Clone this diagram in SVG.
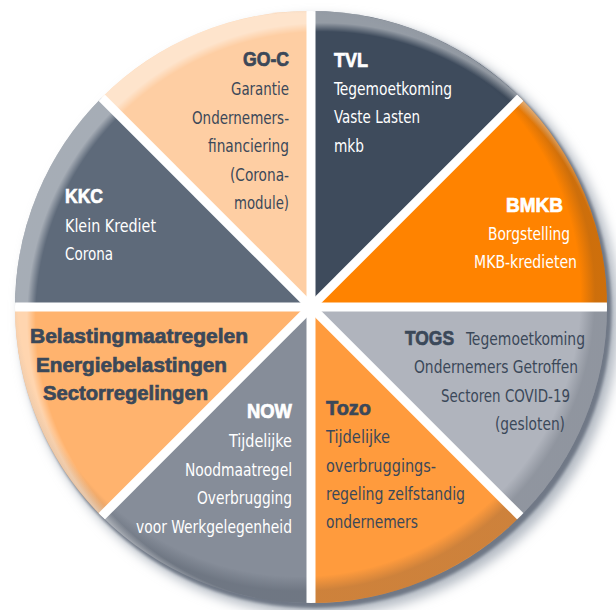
<svg xmlns="http://www.w3.org/2000/svg" width="616" height="610" viewBox="0 0 616 610">
<style>
.t{font-family:"Liberation Sans Narrow","DejaVu Sans Condensed","DejaVu Sans",sans-serif;font-size:18.5px}
.h{font-family:"Liberation Sans","DejaVu Sans",sans-serif;font-size:20px;font-weight:bold;stroke-width:0.7}
.hb{font-family:"Liberation Sans","DejaVu Sans",sans-serif;font-size:21px;font-weight:bold;stroke-width:0.7}
.w{fill:#ffffff}
.d{fill:#3b4859}
.h.w{stroke:#ffffff}
.h.d,.hb.d{stroke:#3b4859}
.e{text-anchor:end}
.gap{stroke:#ffffff;stroke-width:9;fill:none}
</style>
<defs>
<filter id="blur6" x="-10%" y="-10%" width="120%" height="120%"><feGaussianBlur stdDeviation="6"/></filter>
<filter id="blur1" x="-10%" y="-10%" width="120%" height="120%"><feGaussianBlur stdDeviation="1.5"/></filter>
<clipPath id="pie"><circle cx="311" cy="307" r="296"/></clipPath>
<radialGradient id="inShade" cx="0.48" cy="0.48" r="0.5">
<stop offset="0.95" stop-color="#1e2835" stop-opacity="0"/>
<stop offset="1" stop-color="#1e2835" stop-opacity="0.22"/>
</radialGradient>
<radialGradient id="inLight" cx="0.52" cy="0.52" r="0.5">
<stop offset="0.97" stop-color="#ffffff" stop-opacity="0"/>
<stop offset="1" stop-color="#ffffff" stop-opacity="0.45"/>
</radialGradient>
</defs>
<rect width="616" height="610" fill="#ffffff"/>
<g id="shadow">
<circle cx="320" cy="316" r="299" fill="#b3bac3" filter="url(#blur6)"/>
<circle cx="314.5" cy="311" r="297" fill="#6f7886" filter="url(#blur1)"/>
</g>
<g id="segments">
<g id="tvl"><path d="M311,307 L311,11 A296,296 0 0 1 520.3,97.7 Z" fill="#3e4b5c"/></g>
<g id="bmkb"><path d="M311,307 L520.3,97.7 A296,296 0 0 1 607,307 Z" fill="#ff8300"/></g>
<g id="togs"><path d="M311,307 L607,307 A296,296 0 0 1 520.3,516.3 Z" fill="#b0b4bd"/></g>
<g id="tozo"><path d="M311,307 L520.3,516.3 A296,296 0 0 1 311,603 Z" fill="#ff9b3d"/></g>
<g id="now"><path d="M311,307 L311,603 A296,296 0 0 1 101.7,516.3 Z" fill="#868d99"/></g>
<g id="belasting"><path d="M311,307 L101.7,516.3 A296,296 0 0 1 15,307 Z" fill="#ffb36e"/></g>
<g id="kkc"><path d="M311,307 L15,307 A296,296 0 0 1 101.7,97.7 Z" fill="#5e6a7a"/></g>
<g id="goc"><path d="M311,307 L101.7,97.7 A296,296 0 0 1 311,11 Z" fill="#fecea3"/></g>
</g>
<g id="bevel">
<circle cx="311" cy="307" r="296" fill="url(#inShade)"/>
<circle cx="311" cy="307" r="296" fill="url(#inLight)"/>
</g>
<g id="connectors" clip-path="url(#pie)">
<line class="gap" x1="311" y1="0" x2="311" y2="610"/>
<line class="gap" x1="0" y1="307" x2="616" y2="307"/>
<line class="gap" x1="0" y1="-4" x2="622" y2="618"/>
<line class="gap" x1="0" y1="618" x2="622" y2="-4"/>
</g>
<g id="label-goc">
<text class="h d e" x="289" y="66" textLength="46" lengthAdjust="spacingAndGlyphs">GO-C</text>
<text class="t d e" x="289" y="95" textLength="58" lengthAdjust="spacingAndGlyphs">Garantie</text>
<text class="t d e" x="289" y="124" textLength="97" lengthAdjust="spacingAndGlyphs">Ondernemers-</text>
<text class="t d e" x="289" y="152" textLength="81" lengthAdjust="spacingAndGlyphs">financiering</text>
<text class="t d e" x="289" y="181" textLength="59" lengthAdjust="spacingAndGlyphs">(Corona-</text>
<text class="t d e" x="289" y="209" textLength="55" lengthAdjust="spacingAndGlyphs">module)</text>
</g>
<g id="label-tvl">
<text class="h w" x="334" y="67" textLength="34" lengthAdjust="spacingAndGlyphs">TVL</text>
<text class="t w" x="334" y="95" textLength="118" lengthAdjust="spacingAndGlyphs">Tegemoetkoming</text>
<text class="t w" x="334" y="123" textLength="86" lengthAdjust="spacingAndGlyphs">Vaste Lasten</text>
<text class="t w" x="334" y="152" textLength="30" lengthAdjust="spacingAndGlyphs">mkb</text>
</g>
<g id="label-kkc">
<text class="h w" x="65" y="203" textLength="38" lengthAdjust="spacingAndGlyphs">KKC</text>
<text class="t w" x="65" y="232" textLength="91" lengthAdjust="spacingAndGlyphs">Klein Krediet</text>
<text class="t w" x="65" y="260" textLength="48" lengthAdjust="spacingAndGlyphs">Corona</text>
</g>
<g id="label-bmkb">
<text class="h w" x="506" y="212" textLength="57" lengthAdjust="spacingAndGlyphs">BMKB</text>
<text class="t w" x="488" y="240" textLength="82" lengthAdjust="spacingAndGlyphs">Borgstelling</text>
<text class="t w" x="474" y="268" textLength="103" lengthAdjust="spacingAndGlyphs">MKB-kredieten</text>
</g>
<g id="label-belasting">
<text class="hb d" x="30" y="343" textLength="218" lengthAdjust="spacingAndGlyphs">Belastingmaatregelen</text>
<text class="hb d" x="36" y="372" textLength="191" lengthAdjust="spacingAndGlyphs">Energiebelastingen</text>
<text class="hb d" x="43" y="400" textLength="165" lengthAdjust="spacingAndGlyphs">Sectorregelingen</text>
</g>
<g id="label-togs">
<text class="h d" x="405" y="345" textLength="49" lengthAdjust="spacingAndGlyphs">TOGS</text>
<text class="t d" x="466" y="345" textLength="119" lengthAdjust="spacingAndGlyphs">Tegemoetkoming</text>
<text class="t d" x="414" y="373" textLength="164" lengthAdjust="spacingAndGlyphs">Ondernemers Getroffen</text>
<text class="t d" x="441" y="402" textLength="129" lengthAdjust="spacingAndGlyphs">Sectoren COVID-19</text>
<text class="t d" x="495" y="430" textLength="70" lengthAdjust="spacingAndGlyphs">(gesloten)</text>
</g>
<g id="label-now">
<text class="h w e" x="292" y="418" textLength="45" lengthAdjust="spacingAndGlyphs">NOW</text>
<text class="t w e" x="292" y="447" textLength="63" lengthAdjust="spacingAndGlyphs">Tijdelijke</text>
<text class="t w e" x="292" y="476" textLength="107" lengthAdjust="spacingAndGlyphs">Noodmaatregel</text>
<text class="t w e" x="292" y="504" textLength="95" lengthAdjust="spacingAndGlyphs">Overbrugging</text>
<text class="t w e" x="292" y="533" textLength="156" lengthAdjust="spacingAndGlyphs">voor Werkgelegenheid</text>
</g>
<g id="label-tozo">
<text class="h d" x="326" y="415" textLength="45" lengthAdjust="spacingAndGlyphs">Tozo</text>
<text class="t d" x="326" y="443" textLength="64" lengthAdjust="spacingAndGlyphs">Tijdelijke</text>
<text class="t d" x="326" y="472" textLength="110" lengthAdjust="spacingAndGlyphs">overbruggings-</text>
<text class="t d" x="326" y="500" textLength="139" lengthAdjust="spacingAndGlyphs">regeling zelfstandig</text>
<text class="t d" x="326" y="528" textLength="92" lengthAdjust="spacingAndGlyphs">ondernemers</text>
</g>
</svg>
